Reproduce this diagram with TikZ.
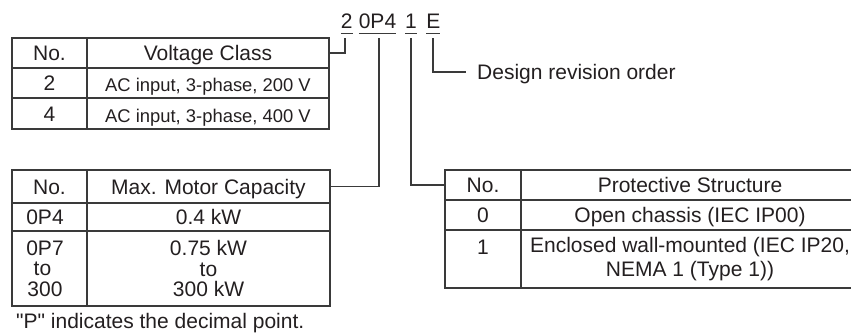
\documentclass[tikz,border=0pt]{standalone}
\usepackage{fontspec}
\setmainfont{Liberation Sans}[Ligatures=TeXOff]
\definecolor{ink}{HTML}{231F20}
\definecolor{rulec}{HTML}{3A3A3A}
\newcommand\dgBig{\fontsize{21}{24}\selectfont}
\newcommand\dgSmall{\fontsize{18.4}{22}\selectfont}
\newcommand\dgMulti{\fontsize{21}{20.5}\selectfont}
\newcommand\dgTwo{\fontsize{21}{24}\selectfont}
\begin{document}
\begin{tikzpicture}[x=1pt,y=-1pt,
  cell/.style={draw=rulec, line width=1.3pt, inner sep=0pt, outer sep=0pt,
    anchor=north west, text=ink, font=\dgBig},
  one/.style={text height=15pt, text depth=0pt},
  onesm/.style={font=\dgSmall, text height=17.2pt, text depth=0pt},
  multi/.style={align=center},
  code/.style={inner sep=0pt, outer sep=0pt, anchor=base, text=ink, font=\dgBig},
  conn/.style={draw=rulec, line width=1.2pt},
  uline/.style={draw=rulec, line width=1pt},
  note/.style={inner sep=0pt, text=ink, font=\dgBig}]
\clip (0,0) rectangle (851,335);

% code string
\node[code] (code2) at (346.7,28) {2};
\node[code] (codeP) at (377.5,28) {0P4};
\node[code] (code1) at (411,28) {1};
\node[code] (codeE) at (433.3,28) {E};
\foreach \n in {code2,codeP,code1,codeE}
  \draw[uline] ([yshift=-5pt]\n.base west) -- ([yshift=-5pt]\n.base east);

% voltage class table
\node[cell,one,minimum width=75pt,minimum height=30pt] (vNoH) at (12,38) {No.};
\node[cell,one,minimum width=242pt,minimum height=30pt] (vClsH) at (87,38) {Voltage Class};
\node[cell,one,minimum width=75pt,minimum height=30pt] (v2) at (12,68) {2};
\node[cell,onesm,minimum width=242pt,minimum height=30pt] (v2d) at (87,68) {AC input, 3-phase, 200 V};
\node[cell,one,minimum width=75pt,minimum height=31pt] (v4) at (12,98) {4};
\node[cell,onesm,minimum width=242pt,minimum height=31pt] (v4d) at (87,98) {AC input, 3-phase, 400 V};

% motor capacity table
\node[cell,one,minimum width=75pt,minimum height=33pt] (mNoH) at (12,170) {No.};
\node[cell,one,minimum width=243pt,minimum height=33pt] (mCapH) at (87,170) {Max. Motor Capacity};
\node[cell,one,minimum width=75pt,minimum height=28pt] (m04) at (12,203) {0P4\kern9pt};
\node[cell,one,minimum width=243pt,minimum height=28pt] (m04d) at (87,203) {0.4 kW};
\node[cell,multi,font=\dgMulti,minimum width=75pt,minimum height=75pt] (m07) at (12,231) {0P7\kern9pt\\to\kern14pt\\300\kern9pt};
\node[cell,multi,font=\dgMulti,minimum width=243pt,minimum height=75pt] (m07d) at (87,231) {0.75 kW\\to\\300 kW};
\node[note,anchor=base west] (fn) at (16,328) {"P" indicates the decimal point.};

% protective structure table
\node[cell,one,minimum width=76pt,minimum height=30pt] (pNoH) at (445,170) {No.};
\node[cell,one,minimum width=338pt,minimum height=30pt] (pStrH) at (521,170) {Protective Structure};
\node[cell,one,minimum width=76pt,minimum height=30pt] (p0) at (445,200) {0};
\node[cell,one,minimum width=338pt,minimum height=30pt] (p0d) at (521,200) {Open chassis (IEC IP00)};
\node[cell,text height=15pt,text depth=25pt,minimum width=76pt,minimum height=58pt] (p1) at (445,230) {1};
\node[cell,multi,font=\dgTwo,minimum width=338pt,minimum height=58pt] (p1d) at (521,230) {Enclosed wall-mounted (IEC IP20,\\NEMA 1 (Type 1))};

% design revision
\node[note,anchor=west,text height=15pt,text depth=0pt] (rev) at (477,72) {Design revision order};

% connectors
\coordinate (c2) at (345,38);
\coordinate (cP) at (379,38);
\coordinate (c1) at (411,38);
\coordinate (cE) at (433,38);
\draw[conn] (c2) |- (vClsH.east);
\draw[conn] (cP) |- (mCapH.east);
\draw[conn] (c1) |- (pNoH.west);
\draw[conn] (cE) |- ([xshift=-11pt]rev.west);
\end{tikzpicture}
\end{document}
